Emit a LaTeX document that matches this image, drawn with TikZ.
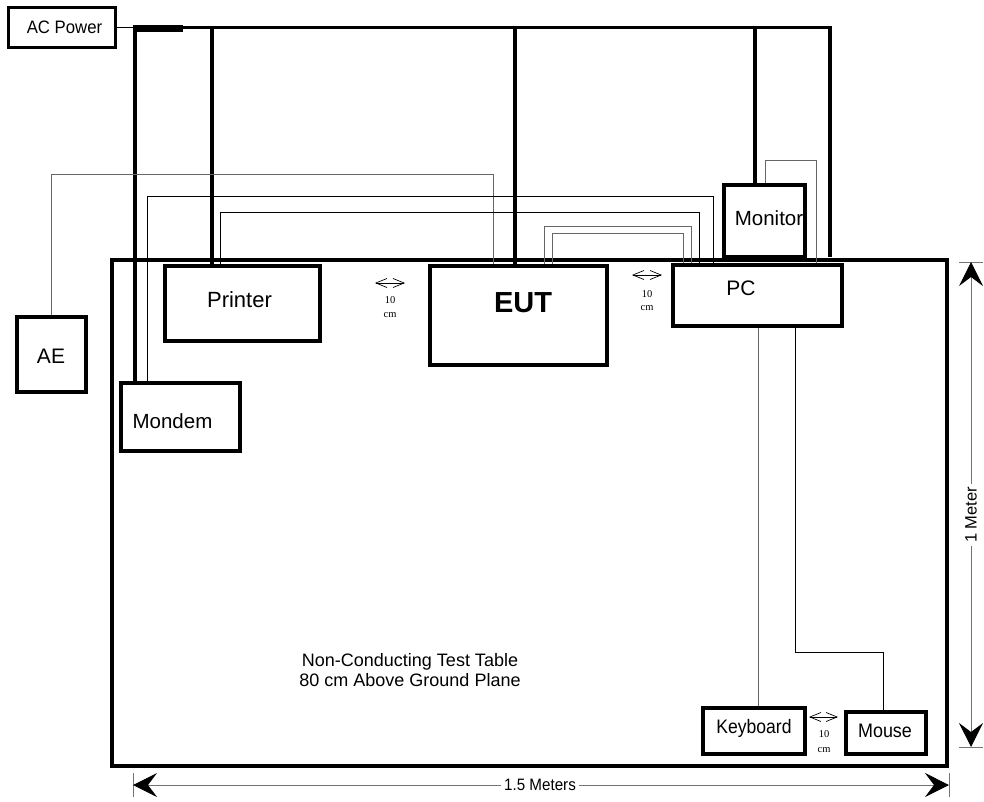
\documentclass[tikz,border=0pt]{standalone}
\usepackage{fontspec}
\usepackage{graphicx}
\setmainfont{Liberation Sans}
\newfontfamily\seriffont{Liberation Serif}
\usetikzlibrary{arrows.meta}
\begin{document}
\begin{tikzpicture}[x=1pt,y=-1pt,
  box/.style={draw, line width=3.4pt, inner sep=0pt},
  tablebox/.style={draw, line width=4.3pt, inner sep=0pt},
  lbl/.style={anchor=base, inner sep=0pt, font=\fontsize{20}{24}\selectfont},
  small/.style={anchor=base, inner sep=0pt, font=\seriffont\fontsize{10.5}{12}\selectfont},
  power/.style={line width=3.4pt, line join=miter},
  cable/.style={line width=1pt, black},
  gcable/.style={line width=1pt, black!60},
  gap/.style={{Straight Barb[length=11pt,width=9pt]}-{Straight Barb[length=11pt,width=9pt]}, line width=0.7pt},
  dim/.style={{Stealth[length=24pt,width=24pt,inset=9pt,color=black]}-{Stealth[length=24pt,width=24pt,inset=9pt,color=black]}, line width=1pt, black!55},
  tick/.style={line width=1pt, black!55}
]
\useasboundingbox (0,0) rectangle (984,801);

% table
\node[tablebox, minimum width=835pt, minimum height=506pt] (table) at (529.5,513) {};

% boxes
\node[box, line width=3pt, minimum width=107pt, minimum height=40pt] (acpower) at (62,27.5) {};
\node[box, minimum width=69pt, minimum height=75pt] (ae) at (51.5,354.5) {};
\node[box, minimum width=119pt, minimum height=68pt] (mondem) at (180.5,417) {};
\node[box, minimum width=155pt, minimum height=75pt] (printer) at (242.5,303.5) {};
\node[box, minimum width=177pt, minimum height=99pt] (eut) at (518.5,315.5) {};
\node[box, minimum width=169pt, minimum height=61pt] (pc) at (757.5,295.5) {};
\node[box, minimum width=81pt, minimum height=72pt] (monitor) at (764.5,221) {};
\node[box, minimum width=102pt, minimum height=46pt] (keyboard) at (754,731) {};
\node[box, minimum width=80pt, minimum height=42pt] (mouse) at (886,733) {};

% labels
\node[lbl, font=\fontsize{18}{22}\selectfont] (acpowertext) at (64.5,33) {\scalebox{0.93}[1]{AC Power}};
\node[lbl, font=\fontsize{21}{24}\selectfont] (aetext) at (51,363) {AE};
\node[lbl, font=\fontsize{20.5}{24}\selectfont] (mondemtext) at (172.5,428) {Mondem};
\node[lbl, font=\fontsize{22}{26}\selectfont] (printertext) at (239.5,307) {Printer};
\node[lbl, font=\bfseries\fontsize{29}{33}\selectfont] (euttext) at (523,312) {EUT};
\node[lbl, font=\fontsize{21}{24}\selectfont] (pctext) at (741,295) {PC};
\node[lbl, font=\fontsize{20.5}{24}\selectfont] (monitortext) at (769,225) {Monitor};
\node[lbl, font=\fontsize{19.5}{23}\selectfont] (keyboardtext) at (754,733) {\scalebox{0.9}[1]{Keyboard}};
\node[lbl, font=\fontsize{19.5}{23}\selectfont] (mousetext) at (885,737) {\scalebox{0.92}[1]{Mouse}};
\node[anchor=base, inner sep=0pt, align=center, font=\fontsize{18}{19.5}\selectfont] (tabletext) at (410,686) {Non-Conducting Test Table\\80 cm Above Ground Plane};

% power cables
\coordinate (busL) at (133,27.5);
\coordinate (busR) at (830,27.5);
\draw[line width=1pt] (acpower.east) -- (busL);
\fill (133,25) rectangle (183,32);
\draw[power] (busL) -- (busR) -- ([yshift=6pt]pc.north -| busR);
\draw[power] (busL -| 135,0) -- (mondem.north -| 135,0);
\draw[power] (busL -| 212,0) -- (printer.north -| 212,0);
\draw[power] (busL -| 515,0) -- (eut.north -| 515,0);
\draw[power] (busL -| 755,0) -- (monitor.north -| 755,0);

% signal cables
\draw[gcable] (ae.north) |- (493,174) -- (eut.north -| 493,0);
\draw[cable] (mondem.north -| 147,0) |- (713,196) -- (pc.north -| 713,0);
\draw[cable] (printer.north -| 220,0) |- (699,212) -- (pc.north -| 699,0);
\draw[gcable] (eut.north -| 544,0) |- (691,226) -- (pc.north -| 691,0);
\draw[gcable] (eut.north -| 552,0) |- (683,233) -- (pc.north -| 683,0);
\draw[gcable] (monitor.north -| 765,0) |- (816,160) -- (pc.north -| 816,0);
\draw[gcable] (pc.south -| 758,0) -- (keyboard.north -| 758,0);
\draw[cable] (pc.south -| 795,0) |- (883,652) -- (mouse.north -| 883,0);

% 10 cm gaps
\coordinate (g1a) at (375,283); \coordinate (g1b) at (405,283);
\draw[gap] (g1a) -- (g1b);
\node[small] (g1t) at (390,303) {10};
\node[small] (g1c) at (390,317) {cm};
\coordinate (g2a) at (632,275); \coordinate (g2b) at (662,275);
\draw[gap] (g2a) -- (g2b);
\node[small] (g2t) at (647,297) {10};
\node[small] (g2c) at (647,310) {cm};
\coordinate (g3a) at (809,717); \coordinate (g3b) at (838,717);
\draw[gap] (g3a) -- (g3b);
\node[small] (g3t) at (824,737) {10};
\node[small] (g3c) at (824,752) {cm};

% dimensions
\coordinate (hl) at (133,785); \coordinate (hr) at (949,785);
\draw[tick] (133,773) -- (133,797);
\draw[tick] (949,773) -- (949,797);
\draw[dim] (hl) -- (hr);
\node[fill=white, inner sep=3pt, font=\fontsize{16.5}{19}\selectfont] (hlabel) at (540,785) {\scalebox{0.92}[1]{1.5 Meters}};

\coordinate (vt) at (971,262); \coordinate (vb) at (971,747);
\draw[tick] (959,262) -- (983,262);
\draw[tick] (959,747) -- (983,747);
\draw[dim] (vt) -- (vb);
\node[fill=white, inner sep=3pt, rotate=90, font=\fontsize{16.5}{19}\selectfont] (vlabel) at (971,515) {1 Meter};
\end{tikzpicture}
\end{document}
